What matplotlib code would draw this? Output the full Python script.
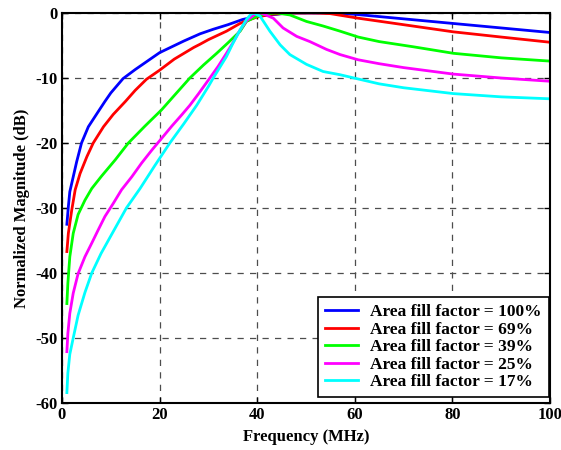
import numpy as np
import matplotlib
matplotlib.use("Agg")
import matplotlib.pyplot as plt

plt.rcParams['font.family'] = ['Liberation Serif', 'DejaVu Serif']
plt.rcParams['font.weight'] = 'bold'
plt.rcParams['axes.unicode_minus'] = False

# frequency (MHz) / normalized magnitude (dB)
x_100 = [1, 1.3, 1.6, 2.3, 3, 4, 5.4, 7.4, 8.8, 10, 12.5, 15, 20, 25, 28.3, 31, 34, 37, 40, 44, 46, 52, 56, 60, 70, 80, 90, 100]
y_100 = [-32.5, -29.8, -27.5, -25.2, -22.9, -20.0, -17.5, -15.2, -13.6, -12.3, -10.1, -8.7, -6.1, -4.3, -3.2, -2.5, -1.8, -1.0, -0.5, -0.2, 0, 0, 0, -0.2, -0.9, -1.6, -2.3, -3.0]

x_69 = [1, 1.3, 2, 2.7, 3.7, 5.1, 6.4, 8.5, 10.5, 13, 15, 17.3, 20, 23, 27, 28.3, 30, 33.7, 36.5, 37.8, 40, 43, 47, 52, 55, 60.7, 70, 80.2, 90, 100]
y_69 = [-36.7, -33.9, -30.3, -27.2, -24.7, -22.1, -20.0, -17.5, -15.6, -13.6, -11.9, -10.2, -8.8, -7.1, -5.3, -4.8, -4.1, -2.8, -1.6, -1.2, -0.6, -0.2, 0, 0, -0.1, -0.8, -1.8, -2.9, -3.7, -4.5]

x_39 = [1, 1.2, 1.6, 2.3, 3.3, 4.7, 6.1, 8.1, 10.9, 13.6, 17, 20.4, 23, 26.2, 29, 31.7, 34, 36.5, 37.8, 40, 42, 44, 46.7, 50.1, 53.5, 57, 60.7, 65, 72, 80.2, 90, 100]
y_39 = [-44.7, -41.6, -37.5, -33.9, -31.0, -28.8, -27.0, -25.1, -22.6, -20.0, -17.4, -14.9, -12.7, -10.0, -8.0, -6.2, -4.6, -2.8, -1.3, -0.5, -0.1, 0, -0.3, -1.3, -2.0, -2.8, -3.7, -4.4, -5.2, -6.2, -6.9, -7.4]

x_25 = [1, 1.2, 1.6, 2.3, 3.3, 4.7, 6.1, 7.4, 8.8, 10.5, 12.2, 14.3, 16.3, 18.4, 20.4, 22.5, 24.5, 26.2, 28, 30.3, 32, 33.7, 35, 36.5, 37.8, 39.5, 40.8, 43.3, 45.3, 48.1, 50.8, 54.2, 57, 60.7, 65, 70, 80.2, 90, 100]
y_25 = [-52.1, -49.3, -46.2, -43.1, -40.1, -37.5, -35.4, -33.4, -31.3, -29.3, -27.2, -25.2, -23.1, -21.1, -19.3, -17.4, -15.7, -14.2, -12.4, -10.0, -8.2, -6.2, -4.6, -2.6, -1.2, -0.2, 0, -0.8, -2.3, -3.6, -4.4, -5.6, -6.4, -7.2, -7.8, -8.4, -9.4, -10.0, -10.5]

x_17 = [1, 1.2, 1.6, 2.3, 3.3, 4.7, 6.1, 8, 10, 13.2, 16, 19, 22.1, 25, 27.6, 30, 31, 33.7, 35, 36.5, 37.8, 38.7, 39.3, 40.6, 42.6, 44.7, 46.7, 50.1, 53.5, 57, 60.4, 65, 70, 80.2, 90, 100]
y_17 = [-58.4, -55.4, -52.5, -50.0, -46.5, -43.0, -40.0, -37.0, -34.3, -30.0, -27.0, -23.5, -20.0, -17.0, -14.2, -11.3, -10.0, -6.7, -4.7, -2.6, -1.0, -0.2, 0, -0.5, -2.8, -4.9, -6.4, -7.9, -9.0, -9.5, -10.1, -10.9, -11.5, -12.4, -12.9, -13.2]

labels = ['Area fill factor = 100%', 'Area fill factor = 69%', 'Area fill factor = 39%',
          'Area fill factor = 25%', 'Area fill factor = 17%']
colors = ['#0000ff', '#ff0000', '#00ff00', '#ff00ff', '#00ffff']
series = [(x_100, y_100), (x_69, y_69), (x_39, y_39), (x_25, y_25), (x_17, y_17)]

fig = plt.figure(figsize=(5.61, 4.5), dpi=100)
ax = fig.add_axes([62 / 561, 1 - 403 / 450, (550 - 62) / 561, (403 - 13) / 450])

for (xs, ys), c, lab in zip(series, colors, labels):
    ax.plot(xs, ys, color=c, lw=2, label=lab)

ax.set_xlim(0, 100)
ax.set_ylim(-60, 0)
ax.set_xticks(np.arange(0, 101, 20))
ax.set_yticks(np.arange(-60, 1, 10))
ax.grid(True, color='0.3', linestyle=(0, (5, 5)), linewidth=0.9)
ax.tick_params(direction='in', length=4, width=1, top=True, right=True, labelsize=12, pad=3)
for s in ax.spines.values():
    s.set_linewidth(1.5)

ax.set_xlabel('Frequency (MHz)', fontsize=12, fontweight='bold', labelpad=4)
ax.set_ylabel('Normalized Magnitude (dB)', fontsize=12, fontweight='bold', labelpad=4)

leg = ax.legend(loc='lower right', bbox_to_anchor=(0.997, 0.015), borderaxespad=0,
                prop={'weight': 'bold', 'size': 12.5}, fancybox=False, framealpha=1,
                edgecolor='black', handlelength=1.9, handletextpad=0.7,
                labelspacing=0.08, borderpad=0.4)
leg.get_frame().set_linewidth(1.2)

fig.savefig('out.png', dpi=100)
